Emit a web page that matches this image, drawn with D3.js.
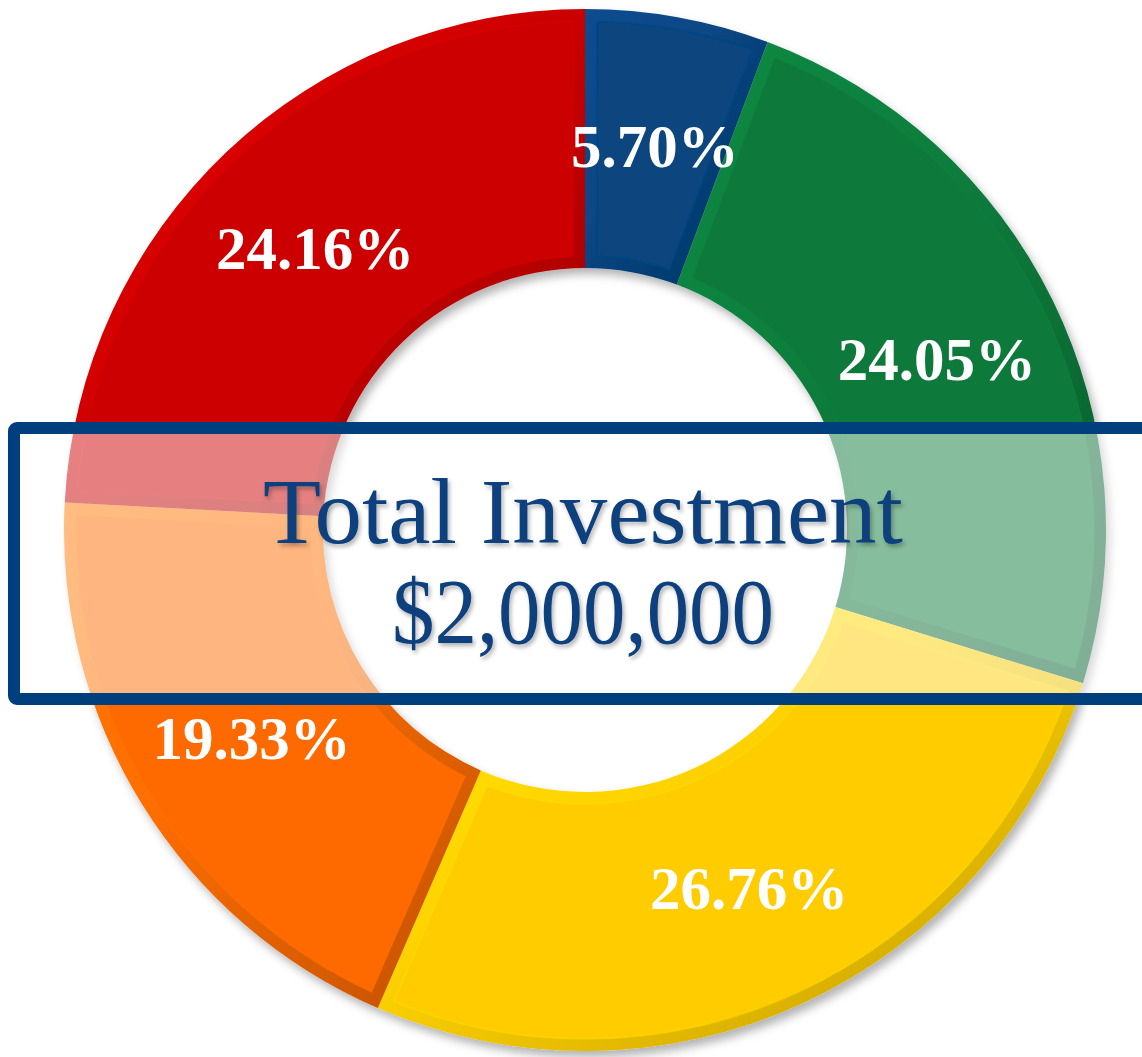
<!DOCTYPE html>
<html>
<head>
<meta charset="utf-8">
<script src="https://cdn.jsdelivr.net/npm/d3@7"></script>
<style>
  body { margin: 0; background: #fff; }
  svg { display: block; }
</style>
</head>
<body>
<div id="chart"></div>
<script>
// data
var categories = ["A", "B", "C", "D", "E"];
var shares = [5.70, 24.05, 26.76, 19.33, 24.16];
var colors = ["#07447f", "#087a3b", "#ffcc00", "#ff6a00", "#cc0505"];
var titleLines = ["Total Investment", "$2,000,000"];

var width = 1142, height = 1057;
var cx = 585, cy = 530,
    outerR = 521, innerR = 262;

var svg = d3.select("#chart").append("svg")
    .attr("width", width)
    .attr("height", height);

var defs = svg.append("defs");

// donut drop shadow
var sh = defs.append("filter").attr("id", "donutShadow")
    .attr("x", "-10%").attr("y", "-10%").attr("width", "130%").attr("height", "130%");
sh.append("feDropShadow").attr("dx", 4).attr("dy", 6)
    .attr("stdDeviation", 5).attr("flood-color", "#000").attr("flood-opacity", 0.3);

var tsh = defs.append("filter").attr("id", "textShadow")
    .attr("x", "-10%").attr("y", "-20%").attr("width", "120%").attr("height", "150%");
tsh.append("feDropShadow").attr("dx", 2).attr("dy", 3)
    .attr("stdDeviation", 2).attr("flood-color", "#000").attr("flood-opacity", 0.3);

var pie = d3.pie().sort(null).value(function (d) { return d; });
var slices = pie(shares);

var arc = d3.arc().innerRadius(innerR).outerRadius(outerR);
// inset arc for the bevel face
var bevel = 12;
var faceArc = d3.arc()
    .innerRadius(innerR + bevel)
    .outerRadius(outerR - bevel)
    .padRadius(400)
    .padAngle(2 * bevel / 400);
var labelArc = d3.arc().innerRadius(392).outerRadius(392);

// per slice gradient: light top-left, dark bottom-right
slices.forEach(function (d, i) {
    var c = d3.color(colors[i]);
    var g = defs.append("linearGradient").attr("id", "bev" + i)
        .attr("x1", 0).attr("y1", 0).attr("x2", 1).attr("y2", 1);
    g.append("stop").attr("offset", "0%").attr("stop-color", c.brighter(0.35));
    g.append("stop").attr("offset", "40%").attr("stop-color", c.brighter(0.1));
    g.append("stop").attr("offset", "100%").attr("stop-color", c.darker(0.8));
});

var donut = svg.append("g")
    .attr("transform", "translate(" + cx + "," + cy + ")")
    .attr("filter", "url(#donutShadow)");

var seg = donut.selectAll("g.slice")
    .data(slices)
    .enter().append("g")
    .attr("class", "slice");

seg.append("path")
    .attr("d", arc)
    .attr("fill", function (d, i) { return "url(#bev" + i + ")"; });

seg.append("path")
    .attr("d", faceArc)
    .attr("fill", function (d, i) { return colors[i]; })
    .attr("stroke", function (d, i) { return d3.color(colors[i]).brighter(0.3); })
    .attr("stroke-opacity", 0.4)
    .attr("stroke-width", 1.5);

// labels
var labels = svg.append("g")
    .attr("transform", "translate(" + cx + "," + cy + ")");

labels.selectAll("text")
    .data(slices)
    .enter().append("text")
    .attr("x", function (d) { return labelArc.centroid(d)[0]; })
    .attr("y", function (d) { return labelArc.centroid(d)[1] + 23; })
    .attr("text-anchor", "middle")
    .attr("fill", "#fff")
    .style("font-family", "'Liberation Serif', 'DejaVu Serif', serif")
    .style("font-weight", "bold")
    .style("font-size", "61px")
    .text(function (d) { return d.data.toFixed(2) + "%"; });

// overlay box
svg.append("rect")
    .attr("x", 14)
    .attr("y", 428)
    .attr("width", 1150)
    .attr("height", 271)
    .attr("rx", 3)
    .attr("fill", "#fff")
    .attr("fill-opacity", 0.5)
    .attr("stroke", "#003f7e")
    .attr("stroke-width", 12);

var title = svg.append("g").attr("filter", "url(#textShadow)");
var titleY = [543, 643], titleW = [640, 382];
titleLines.forEach(function (t, i) {
    title.append("text")
        .attr("x", 583)
        .attr("y", titleY[i])
        .attr("text-anchor", "middle")
        .attr("fill", "#0b3f7c")
        .attr("textLength", titleW[i])
        .attr("lengthAdjust", "spacingAndGlyphs")
        .style("font-family", "'Liberation Serif', 'DejaVu Serif', serif")
        .style("font-size", "94px")
        .text(t);
});
</script>
</body>
</html>
